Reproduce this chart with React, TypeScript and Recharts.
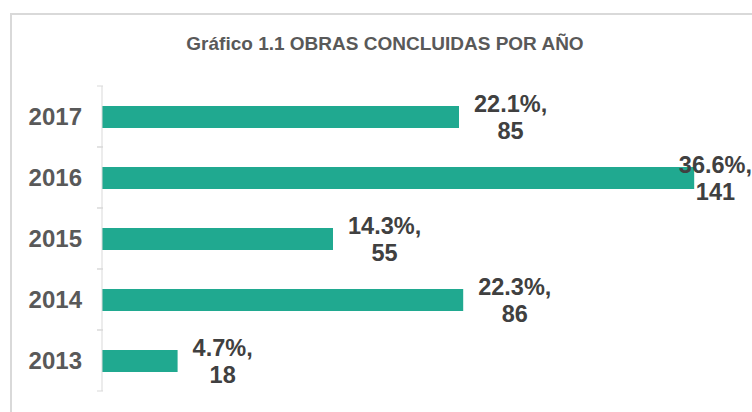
import { BarChart, Bar, XAxis, YAxis, LabelList } from "recharts";

const years = ["2017", "2016", "2015", "2014", "2013"];
const obras = [85, 141, 55, 86, 18];
const shares = ["22.1%", "36.6%", "14.3%", "22.3%", "4.7%"];

const TITLE = "Gráfico 1.1 OBRAS CONCLUIDAS POR AÑO";
const FONT = "'Liberation Sans', Arial, sans-serif";
const TEAL = "#20A990";

const rows = years.map((y, i) => ({ year: y, value: obras[i], share: shares[i] }));

// rough bold Arial widths, good enough to clamp the labels inside the frame
const charW = (c: string) => (c === "%" ? 0.889 : c === "." || c === "," ? 0.278 : 0.556);
const textW = (s: string, size: number) => s.split("").reduce((a, c) => a + charW(c) * size, 0);

function YearTick(props: any) {
  const { x, y, payload } = props;
  const half = payload?.offset || 30.5;
  const ax = x + 9;
  return (
    <g>
      <line x1={ax - 6} x2={ax} y1={y - half} y2={y - half} stroke="#d9d9d9" />
      <line x1={ax - 6} x2={ax} y1={y + half} y2={y + half} stroke="#d9d9d9" />
      <text x={x - 12} y={y + 8} textAnchor="end" fontSize={24} fontWeight="bold" fill="#595959" fontFamily={FONT}>
        {payload.value}
      </text>
    </g>
  );
}

function ValueLabel(props: any) {
  const { x, y, width, height, index } = props;
  const size = 23.5;
  const line1 = `${shares[index]},`;
  const line2 = String(obras[index]);
  const w = textW(line1, size);
  const left = Math.min(x + width + 15, 752 - w);
  const cy = y + height / 2;
  return (
    <g fontFamily={FONT} fontSize={size} fontWeight="bold" fill="#404040">
      <text x={left} y={cy - 5}>{line1}</text>
      <text x={left + w / 2} y={cy + 22} textAnchor="middle">{line2}</text>
    </g>
  );
}

export default function App() {
  return (
    <div style={{ position: "fixed", left: 0, top: 0, width: 752, height: 412, overflow: "hidden", background: "#fff" }}>
      <div style={{ position: "absolute", left: 10, top: 13, width: 780, height: 440, border: "2px solid #d9d9d9", boxSizing: "border-box" }} />
      <div style={{ position: "absolute", left: 0, top: 33, width: 770, textAlign: "center", fontFamily: FONT, fontWeight: "bold", fontSize: 19, color: "#595959" }}>
        {TITLE}
      </div>
      <div style={{ position: "absolute", left: 0, top: 0 }}>
        <BarChart width={752} height={412} data={rows} layout="vertical" margin={{ top: 86, right: 20, bottom: 21, left: 12 }}>
          <XAxis type="number" domain={[0, 150]} hide />
          <YAxis
            type="category"
            dataKey="year"
            width={90}
            axisLine={{ stroke: "#d9d9d9" }}
            tickLine={false}
            tick={<YearTick />}
          />
          <Bar dataKey="value" fill={TEAL} barSize={22} isAnimationActive={false}>
            <LabelList dataKey="value" content={<ValueLabel />} />
          </Bar>
        </BarChart>
      </div>
    </div>
  );
}
